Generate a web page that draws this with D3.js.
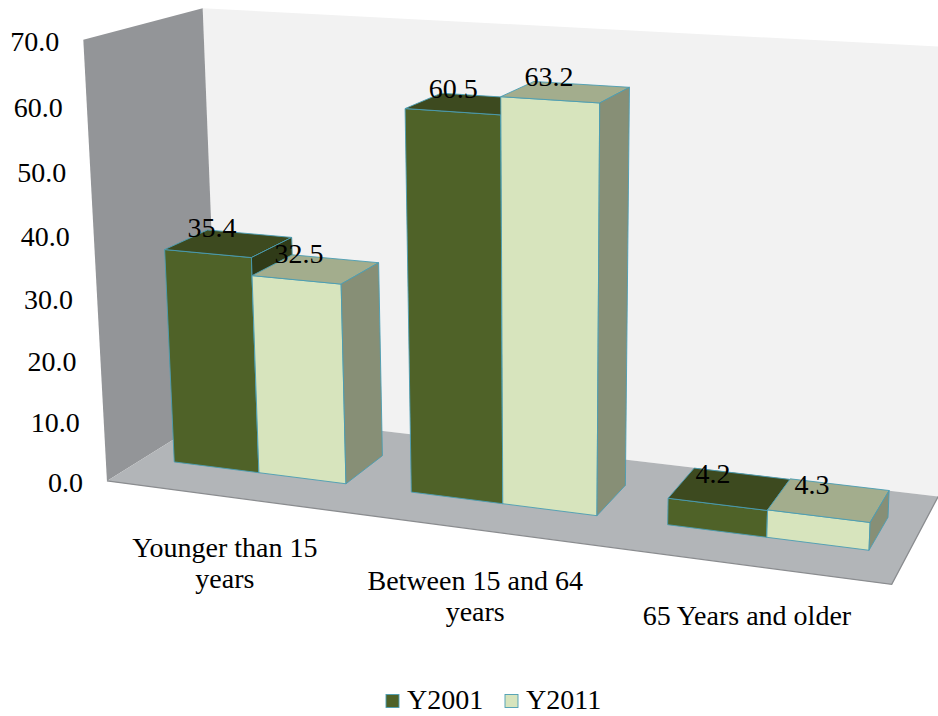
<!DOCTYPE html>
<html><head><meta charset="utf-8">
<script src="https://cdn.jsdelivr.net/npm/d3@7"></script>
</head><body style="margin:0">
<svg id="chart" width="938" height="716"></svg>
<script>
// ---------------- data ----------------
const categories = ["Younger than 15 years", "Between 15 and 64 years", "65 Years and older"];
const seriesNames = ["Y2001", "Y2011"];
const y2001 = [35.4, 60.5, 4.2];
const y2011 = [32.5, 63.2, 4.3];
const yTicks = [0, 10, 20, 30, 40, 50, 60, 70];

// ---------------- layout / style ----------------
const fontSize = 28;
const fontFamily = "Times New Roman";
// screen anchors of the 3D plot box corners (unit cube X,Y,Z -> px)
const frameAnchors = [
  {w:[0,0,0], s:[107,481]},
  {w:[0,1,0], s:[83,40]},
  {w:[0,1,1], s:[203,8]},
  {w:[0,0,1], s:[218.5,411.5]},
  {w:[1,0,0], s:[892,584]},
  {w:[1,0,1], s:[938,497]},
  {w:[1,1,1], s:[960,47.5]}
];
const zFront = 0.31, zBack = 0.69;       // bar depth inside the box
const colors = {
  Y2001: {front:"#4f6228", top:"#3d4a1f", side:"#303b18"},
  Y2011: {front:"#d7e4bd", top:"#a3ad8d", side:"#878f76"}
};
const edgeColor = "#4a9db3";
const wallBack = "#f2f2f2", wallSide = "#939598", floorColor = "#b2b5b8";

// ---------------- projection (DLT fit of frame anchors) ----------------
function fitProjection(anchors){
  const n = 11;
  const M = Array.from({length:n}, () => new Array(n).fill(0));
  const r = new Array(n).fill(0);
  const S = 1000;
  function addRow(row, b){
    for (let i = 0; i < n; i++){ r[i] += row[i]*b; for (let j = 0; j < n; j++) M[i][j] += row[i]*row[j]; }
  }
  anchors.forEach(({w:[X,Y,Z], s:[u0,v0]}) => {
    const u = u0/S, v = v0/S;
    addRow([X,Y,Z,1,0,0,0,0,-u*X,-u*Y,-u*Z], u);
    addRow([0,0,0,0,X,Y,Z,1,-v*X,-v*Y,-v*Z], v);
  });
  for (let c = 0; c < n; c++){
    let p = c;
    for (let i = c+1; i < n; i++) if (Math.abs(M[i][c]) > Math.abs(M[p][c])) p = i;
    [M[c], M[p]] = [M[p], M[c]]; [r[c], r[p]] = [r[p], r[c]];
    for (let i = 0; i < n; i++){
      if (i === c) continue;
      const f = M[i][c]/M[c][c];
      if (!f) continue;
      for (let j = c; j < n; j++) M[i][j] -= f*M[c][j];
      r[i] -= f*r[c];
    }
  }
  const p = r.map((v,i) => v/M[i][i]);
  return ([X,Y,Z]) => {
    const d = p[8]*X + p[9]*Y + p[10]*Z + 1;
    return [S*(p[0]*X + p[1]*Y + p[2]*Z + p[3])/d, S*(p[4]*X + p[5]*Y + p[6]*Z + p[7])/d];
  };
}
const project = fitProjection(frameAnchors);

// ---------------- scales ----------------
const x0 = d3.scaleBand().domain(categories).range([0,1]).paddingInner(0.268).paddingOuter(0.134);
const x1 = d3.scaleBand().domain(seriesNames).range([0, x0.bandwidth()]);
const y = d3.scaleLinear().domain([0,70]).range([0,1]);
const fmt = d3.format(".1f");
const seriesValues = {Y2001: y2001, Y2011: y2011};

const svg = d3.select("#chart");
const poly = pts => "M" + pts.map(p => project(p).map(v => v.toFixed(2)).join(",")).join("L") + "Z";
const addText = (sel) => sel.append("text")
  .style("font-family", `"${fontFamily}"`)
  .attr("font-size", fontSize)
  .attr("fill", "#000");

// ---------------- walls & floor ----------------
const g = svg.append("g");
g.append("path").attr("d", poly([[0,0,1],[1,0,1],[1,1,1],[0,1,1]])).attr("fill", wallBack);
g.append("path").attr("d", poly([[0,0,0],[0,0,1],[0,1,1],[0,1,0]])).attr("fill", wallSide);
g.append("path").attr("d", poly([[0,0,0],[1,0,0],[1,0,1],[0,0,1]])).attr("fill", floorColor);
g.append("path").attr("d", "M" + [[0,0,0],[1,0,0],[1,0,1]].map(p => project(p).join(",")).join("L"))
  .attr("fill","none").attr("stroke","#8a8c8f").attr("stroke-width",1.3);

// ---------------- bars ----------------
const bars = [];
categories.forEach((c, ci) => {
  seriesNames.forEach(s => {
    const xa = x0(c) + x1(s), xb = xa + x1.bandwidth();
    const v = seriesValues[s][ci];
    bars.push({c, s, v, xa, xb, yt: y(v)});
  });
});
const bg = svg.append("g");
bars.forEach(b => {
  const col = colors[b.s];
  const faces = [
    {pts:[[b.xa,0,zFront],[b.xb,0,zFront],[b.xb,b.yt,zFront],[b.xa,b.yt,zFront]], fill:col.front},
    {pts:[[b.xa,b.yt,zFront],[b.xb,b.yt,zFront],[b.xb,b.yt,zBack],[b.xa,b.yt,zBack]], fill:col.top},
    {pts:[[b.xb,0,zFront],[b.xb,0,zBack],[b.xb,b.yt,zBack],[b.xb,b.yt,zFront]], fill:col.side}
  ];
  faces.forEach(f => bg.append("path").attr("d", poly(f.pts)).attr("fill", f.fill)
    .attr("stroke", edgeColor).attr("stroke-width", 0.9).attr("stroke-linejoin","round"));
});

// ---------------- data labels ----------------
bars.forEach(b => {
  const [cx, cy] = project([(b.xa+b.xb)/2, b.yt, (zFront+zBack)/2]);
  addText(svg).attr("x", cx - 17).attr("y", cy - 6).attr("text-anchor","middle").text(fmt(b.v));
});

// ---------------- value axis labels ----------------
yTicks.forEach(t => {
  const [px, py] = project([0, y(t), 0]);
  addText(svg).attr("x", px - 24).attr("y", py + 11).attr("text-anchor","end").text(fmt(t));
});

// ---------------- category labels (greedy word wrap) ----------------
const wrapChars = 18, lineHeight = 31.5;
categories.forEach(c => {
  const [px, py] = project([x0(c) + x0.bandwidth()/2, 0, 0]);
  const lines = [];
  let cur = "";
  c.split(" ").forEach(w => {
    const test = cur ? cur + " " + w : w;
    if (test.length > wrapChars && cur){ lines.push(cur); cur = w; } else cur = test;
  });
  lines.push(cur);
  lines.forEach((ln, i) => addText(svg).attr("text-anchor","middle")
    .attr("x", px).attr("y", py + 60 + i*lineHeight).text(ln));
});

// ---------------- legend ----------------
const legend = svg.append("g");
const legendStart = 386, legendY = 700, sq = 13, gap = 8, itemStep = 119;
seriesNames.forEach((s, i) => {
  const lx = legendStart + i*itemStep;
  legend.append("rect").attr("x", lx).attr("y", legendY - sq/2 + 1).attr("width", sq).attr("height", sq)
    .attr("fill", colors[s].front).attr("stroke", edgeColor).attr("stroke-width", 0.9);
  addText(legend).attr("x", lx + sq + gap).attr("y", legendY + 9).text(s);
});
</script>
</body></html>
